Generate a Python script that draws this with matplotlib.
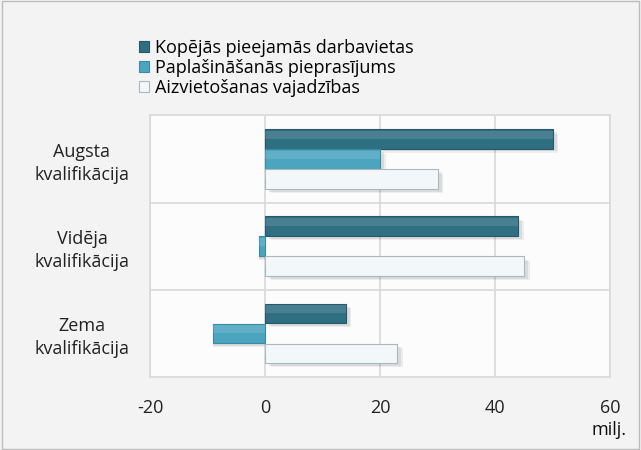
import matplotlib
matplotlib.use("Agg")
import matplotlib.pyplot as plt
from matplotlib.patches import Rectangle

categories = ["Augsta\nkvalifikācija", "Vidēja\nkvalifikācija", "Zema\nkvalifikācija"]
series_names = ["Kopējās pieejamās darbavietas", "Paplašināšanās pieprasījums", "Aizvietošanas vajadzības"]
kopejas = [50, 44, 14]
paplasinasanas = [20, -1, -9]
aizvietosanas = [30, 45, 23]
xticks = [-20, 0, 20, 40, 60]

plt.rcParams['font.family'] = ['Open Sans', 'DejaVu Sans']

fig = plt.figure(figsize=(6.41, 4.5), dpi=100, facecolor='#f3f3f3')
fig.patches.append(Rectangle((0.003, 0.003), 0.994, 0.994, transform=fig.transFigure,
                             fill=False, edgecolor='#bdbdbd', lw=1.0))
ax = fig.add_axes([0.234, 0.162, 0.718, 0.582])
ax.set_facecolor('#fcfcfc')

colors = ['#2f6f82', '#4ba5bf', '#f2f7f9']
edges = ['#24586a', '#3a8aa2', '#aab8bf']
series = [kopejas, paplasinasanas, aizvietosanas]
h = 0.23
offsets = [-h, 0, h]
ys = list(range(len(categories)))
handles = []
for s, vals in enumerate(series):
    pos = [y + offsets[s] for y in ys]
    # soft shadow
    for k, a in [(0.05, 0.06), (0.035, 0.08)]:
        ax.barh([p + k for p in pos], vals, height=h * 0.95,
                left=[k * 20 if v > 0 else 0 for v in vals],
                color='#000000', alpha=a, zorder=2, lw=0)
    b = ax.barh(pos, vals, height=h * 0.98, color=colors[s], edgecolor=edges[s], lw=0.8,
                zorder=3, label=series_names[s])
    # subtle bevel highlight on upper half
    ax.barh([p - h * 0.2 for p in pos], vals, height=h * 0.4, color='white', alpha=0.12, zorder=4, lw=0)
    handles.append(b)

ax.set_ylim(2.5, -0.5)
ax.set_xlim(-20, 60)
ax.set_xticks(xticks)
ax.set_xticklabels([str(t) for t in xticks], fontsize=13, color='#222222')
ax.set_yticks(ys)
ax.set_yticklabels(categories, fontsize=13, color='#222222', ha='center', linespacing=1.35)
ax.tick_params(axis='y', length=0, pad=49)
ax.tick_params(axis='x', length=0, pad=16)
ax.set_yticks([0.5, 1.5], minor=True)
ax.tick_params(axis='y', which='minor', length=0)
ax.grid(True, axis='x', color='#d9d9d9', lw=1.2, zorder=0)
ax.grid(True, axis='y', which='minor', color='#d9d9d9', lw=1.2, zorder=0)
ax.set_axisbelow(True)
for sp in ax.spines.values():
    sp.set_color('#d9d9d9')
    sp.set_linewidth(1.2)

fig.legend(handles=handles, labels=series_names, loc='upper left', bbox_to_anchor=(0.205, 0.93),
           frameon=False, fontsize=13, handlelength=0.6, handleheight=0.6, handletextpad=0.3,
           labelspacing=0.12, borderaxespad=0)

fig.text(0.978, 0.025, 'milj.', ha='right', va='bottom', fontsize=13, color='#111111')

fig.savefig('out.png', dpi=100, facecolor=fig.get_facecolor())
